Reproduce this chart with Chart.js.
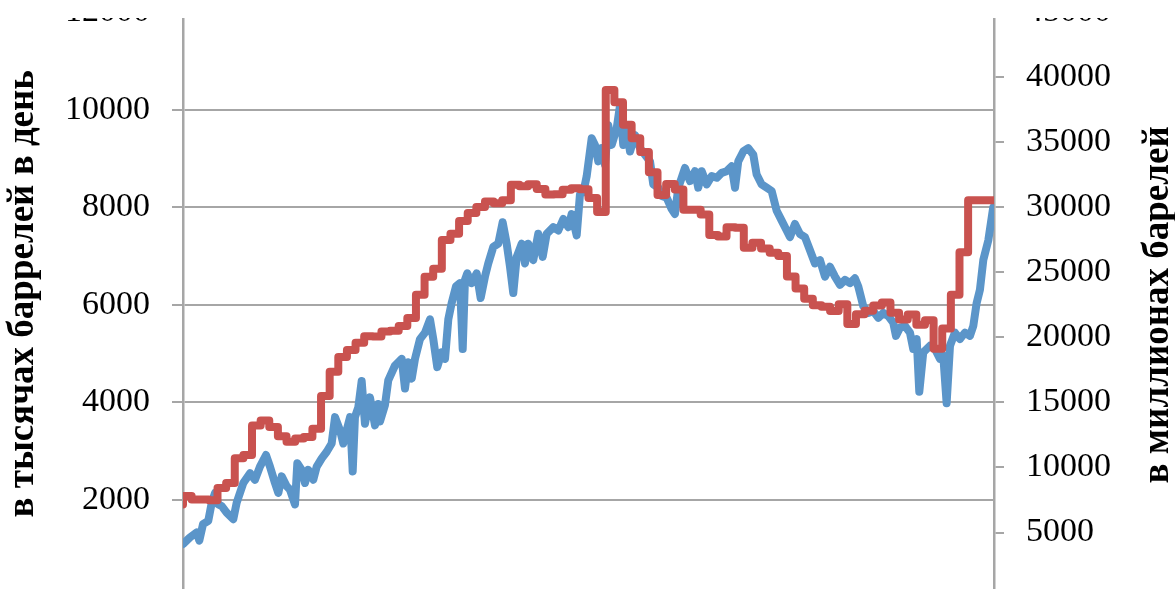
<!DOCTYPE html>
<html><head><meta charset="utf-8">
<script src="https://cdn.jsdelivr.net/npm/chart.js@4.4.0/dist/chart.umd.min.js"></script>
<style>
html,body{margin:0;padding:0;background:#fff;overflow:hidden;width:1175px;height:589px;}
#wrap{position:absolute;left:0;top:-40px;width:1175px;height:680px;}
</style></head><body>
<div id="wrap"><canvas id="c"></canvas></div>
<script>
// Production, thousand barrels per day (left axis)
const productionYears = [
1920.03,1920.81,1921.59,1921.89,1922.32,1922.93,1923.33,1923.71,1924.09,1924.49,
1925.06,1925.83,1926.22,1926.99,1927.77,1928.34,1928.92,1929.62,1930.08,1930.66,
1931.05,1931.44,1932.02,1932.40,1932.98,1933.25,1933.76,1934.14,1934.52,1935.10,
1935.50,1936.08,1936.66,1937.23,1937.62,1938.20,1938.58,1938.97,1939.36,1939.67,
1939.93,1940.32,1940.71,1941.09,1941.67,1942.25,1942.64,1942.83,1943.41,1943.79,
1944.57,1945.35,1945.73,1946.11,1946.51,1946.89,1947.47,1948.05,1948.63,1949.01,
1949.47,1949.98,1950.37,1950.75,1951.14,1951.64,1952.10,1952.42,1952.68,1952.95,
1953.46,1954.04,1954.50,1955.00,1955.38,1955.96,1956.54,1957.05,1957.52,1957.90,
1958.28,1958.68,1959.26,1959.64,1960.02,1960.60,1961.18,1961.69,1962.15,1962.92,
1963.50,1964.08,1964.66,1965.05,1965.63,1966.01,1966.40,1966.79,1967.37,1967.75,
1968.13,1968.53,1968.91,1969.29,1969.69,1970.27,1970.65,1971.03,1971.42,1971.81,
1972.39,1972.97,1973.55,1974.13,1974.51,1975.09,1975.48,1976.06,1976.64,1977.02,
1977.41,1977.80,1978.18,1978.76,1979.34,1979.72,1980.12,1980.70,1981.28,1981.86,
1982.43,1983.02,1983.59,1983.98,1984.36,1984.94,1985.52,1986.10,1986.49,1987.07,
1987.65,1988.23,1988.81,1989.39,1989.97,1990.35,1990.93,1991.51,1992.09,1992.67,
1993.25,1993.83,1994.41,1994.99,1995.57,1996.15,1996.73,1997.31,1997.88,1998.27,
1998.85,1999.43,2000.01,2000.59,2001.17,2001.75,2002.32,2002.64,2003.10,2003.68,
2004.26,2004.64,2005.04,2005.34,2005.80,2006.58,2007.16,2007.74,2008.12,2008.51,
2008.90,2009.47,2010.05,2010.63,2011.21,2011.60,2011.99,2012.37,2012.76,2013.34,
2013.91
];
const productionValues = [
1100,1234,1336,1168,1504,1573,1943,2145,1909,1876,
1741,1605,1943,2348,2550,2415,2685,2921,2685,2348,
2145,2483,2281,2212,1909,2753,2617,2348,2617,2415,
2685,2854,2989,3157,3698,3428,3157,3428,3698,2585,
3698,3900,4439,3562,4103,3529,3967,3609,3947,4450,
4756,4892,4285,4823,4487,4892,5297,5430,5702,5297,
4723,5026,4892,5702,6038,6376,6443,5094,6511,6645,
6443,6645,6139,6578,6847,7185,7252,7691,7252,6780,
6240,6983,7252,6847,7252,6916,7455,6983,7455,7590,
7523,7758,7590,7860,7422,8264,8300,8636,9412,9276,
8940,9209,8871,9681,9276,9614,10085,9276,9614,9142,
9479,9209,9074,8940,8466,8400,8231,8197,7961,7860,
8400,8602,8804,8535,8738,8400,8738,8466,8636,8602,
8703,8738,8839,8400,8940,9142,9209,9074,8669,8466,
8400,8332,7928,7725,7523,7388,7657,7450,7388,7118,
6847,6916,6578,6780,6578,6410,6511,6443,6544,6376,
5971,5835,5869,5734,5835,5768,5633,5364,5532,5566,
5430,5094,5297,4216,5026,5161,5094,4892,4959,3981,
5161,5430,5297,5430,5364,5566,6038,6308,6916,7320,
7995
];
// Proved reserves, million barrels (right axis), one value per year from 1920
const reserveFirstYear = 1920;
const reserveValues = [
7160,7800,7540,7540,7480,8420,8800,10700,10950,13230,
13600,13110,12400,11970,12220,12350,12980,15500,17350,18480,
19030,19590,20080,20060,20450,20500,20870,21490,23280,24650,
25270,27470,27960,28940,29560,30010,30430,30300,30540,31720,
31610,31760,31390,30970,30990,31350,31450,31380,30710,29630,
39000,38060,36340,35300,34250,32680,30940,31780,31360,29810,
29810,29430,27860,27740,28450,28420,26890,27260,26830,26500,
26250,24680,23750,22960,22460,22350,22020,22550,21030,21770,
22050,22450,22680,21890,21370,21760,20970,21320,19120,20680,
23270,26540,30530,30530,30530
];
const leftTickStep = 2000, leftMax = 12000;
const rightTickStep = 5000, rightMax = 45000;
const xMin = 1920, xMax = 2014;
const leftTitle = 'в тысячах баррелей в день';
const rightTitle = 'в миллионах барелей';

const productionData = productionYears.map((x, i) => ({x, y: productionValues[i]}));
const reserveData = reserveValues.map((v, i) => ({x: reserveFirstYear + i, y: v}));

const GRID = '#a6a6a6';
const TOP_OFFSET = 40;

const decor = {
  id: 'decor',
  afterDraw(chart) {
    const ctx = chart.ctx;
    const ca = chart.chartArea;
    ctx.save();
    ctx.fillStyle = '#000';
    ctx.font = 'bold 37px "Liberation Serif"';
    ctx.textAlign = 'center';
    ctx.textBaseline = 'alphabetic';
    const mid = (ca.top + ca.bottom) / 2;
    ctx.save();
    ctx.translate(33, mid - 11);
    ctx.rotate(-Math.PI / 2);
    ctx.fillText(leftTitle, 0, 0);
    ctx.restore();
    ctx.save();
    ctx.translate(1168, mid);
    ctx.rotate(-Math.PI / 2);
    ctx.fillText(rightTitle, 0, 0);
    ctx.restore();
    // crop band at the top of the picture
    ctx.fillStyle = '#fff';
    ctx.fillRect(0, 0, chart.width, TOP_OFFSET + 18);
    ctx.restore();
  }
};

const tickFont = {family: '"Liberation Serif", serif', size: 34};
const plainLabel = v => (v === 0 ? '' : String(v));

new Chart(document.getElementById('c'), {
  type: 'line',
  data: {
    datasets: [
      {
        label: 'production',
        data: productionData,
        yAxisID: 'y',
        borderColor: '#5b95c9',
        borderWidth: 8,
        pointRadius: 0,
        tension: 0,
        borderJoinStyle: 'round',
        borderCapStyle: 'round',
        order: 1
      },
      {
        label: 'reserves',
        data: reserveData,
        yAxisID: 'y1',
        borderColor: '#c9524f',
        borderWidth: 8,
        pointRadius: 0,
        stepped: 'after',
        borderJoinStyle: 'round',
        borderCapStyle: 'round',
        order: 0
      }
    ]
  },
  options: {
    responsive: true,
    maintainAspectRatio: false,
    animation: false,
    layout: {padding: {top: 52, bottom: 35, left: 0, right: 0}},
    plugins: {legend: {display: false}, tooltip: {enabled: false}},
    scales: {
      x: {type: 'linear', min: xMin, max: xMax, display: false},
      y: {
        position: 'left', min: 0, max: leftMax,
        ticks: {stepSize: leftTickStep, font: tickFont, color: '#000', padding: 22, callback: plainLabel},
        grid: {color: GRID, lineWidth: 2, tickLength: 11, drawTicks: true},
        border: {color: GRID, width: 2.5},
        afterFit: s => { s.width = 183; }
      },
      y1: {
        position: 'right', min: 0, max: rightMax,
        ticks: {stepSize: rightTickStep, font: tickFont, color: '#000', padding: 22, callback: plainLabel},
        grid: {color: GRID, lineWidth: 2, tickLength: 10, drawOnChartArea: false, drawTicks: true},
        border: {color: GRID, width: 2.5},
        afterFit: s => { s.width = 181; }
      }
    }
  },
  plugins: [decor]
});
</script>
</body></html>
